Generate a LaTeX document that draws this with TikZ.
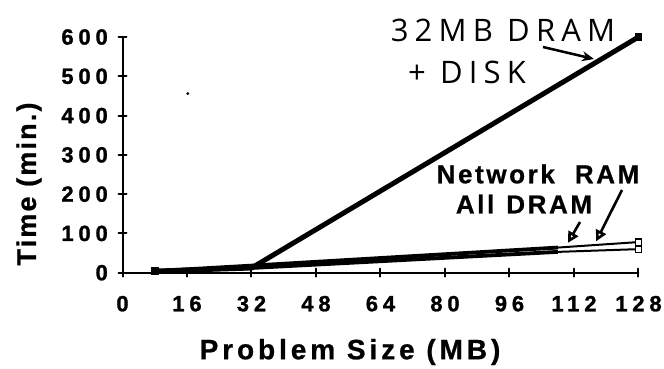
\documentclass[tikz,border=0pt]{standalone}
\usepackage{fontspec}
\setmainfont{Liberation Sans}
\newfontfamily\tickfont[LetterSpace=22,FakeBold=1.2]{Liberation Sans}
\newfontfamily\titlefont[LetterSpace=14,FakeBold=0.8]{Liberation Sans}
\newfontfamily\ytitlefont[LetterSpace=8,FakeBold=0.8]{Liberation Sans}
\newfontfamily\lblfont[LetterSpace=10,FakeBold=0.8]{Liberation Sans}
\newfontfamily\handfont[LetterSpace=20]{Open Sans}
\usetikzlibrary{arrows.meta}
\usetikzlibrary{positioning}

\tikzset{
  axis/.style={line width=2pt, line cap=round},
  ticklab/.style={inner sep=0pt, font=\tickfont\bfseries\fontsize{22}{22}\selectfont},
  axtitle/.style={inner sep=0pt, font=\titlefont\bfseries\fontsize{28}{28}\selectfont},
  ytitle/.style={inner sep=0pt, font=\ytitlefont\bfseries\fontsize{27}{27}\selectfont},
  lbl/.style={inner sep=0pt, font=\lblfont\bfseries\fontsize{26}{26}\selectfont},
  hand/.style={inner sep=0pt, font=\handfont\fontsize{31}{31}\selectfont},
  markbox/.style={draw=black, fill=white, line width=1.4pt, minimum size=6.5pt, inner sep=0pt},
  ptr/.style={-{Triangle[open, length=11pt, width=11pt]}, line width=2.6pt},
}

\begin{document}
\begin{tikzpicture}[x=1pt,y=1pt]
	\useasboundingbox (0,0) rectangle (664,368);
	\begin{scope}[shift={(122.5,95.3)}, x=4.031pt, y=0.3928pt]
		\coordinate (o) at (0,0);
		\coordinate (xe) at (128,0);
		\coordinate (ye) at (0,600);
		\draw[axis] (ye) -- (o) -- (xe);
		\foreach \t in {0,16,...,128} {
			\draw[axis] (\t,0) ++(0pt,-4pt) -- ++(0pt,8pt);
			\node[ticklab, anchor=north, yshift=-23pt] (xl\t) at (\t,0) {\t};
		}
		\foreach \v in {0,100,...,600} {
			\draw[axis] (0,\v) ++(-4pt,0pt) -- ++(8pt,0pt);
			\node[ticklab, anchor=east, xshift=-14.5pt] (yl\v) at (0,\v) {\v};
		}
		% data
		\coordinate (d1) at (8,4);
		\coordinate (d2) at (32,12);
		\coordinate (d3) at (128,600);
		\coordinate (n1) at (8,4);
		\coordinate (n2) at (32,18);
		\coordinate (n3) at (108,64);
		\coordinate (n4) at (128,78);
		\coordinate (a1) at (8,4);
		\coordinate (a2) at (32,12);
		\coordinate (a3) at (108,53);
		\coordinate (a4) at (128,60);
		\draw[line width=3.8pt, line join=round] (a1) -- (a2) -- (a3);
		\draw[line width=3.8pt, line join=round] (n1) -- (n2) -- (n3);
		\draw[line width=2pt] (a3) -- (a4);
		\draw[line width=2pt] (n3) -- (n4);
		\draw[line width=5pt, line join=round] (d1) -- (d2) -- (d3);
		\node[markbox, fill=black] (m1) at (d1) {};
		\node[markbox] (m2) at (a4) {};
		\node[markbox] (m3) at (n4) {};
		\node[markbox, fill=black] (m4) at (d3) {};
		\coordinate (nettip) at (117.5,80);
		\coordinate (dramtip) at (110.5,76);
		\fill (16.2,456) circle (1.6pt);
	\end{scope}
	\node[ytitle, rotate=90] (ytitle) at (29,184) {Time (min.)};
	\node[axtitle] (xtitle) at (350,16) {Problem Size (MB)};
	\node[lbl] (netlbl) at (538,194) {Network\hspace{20pt}RAM};
	\node[lbl] (dramlbl) at (524,164) {All\hspace{12pt}DRAM};
	\coordinate (netfrom) at (622,178);
	\coordinate (dramfrom) at (580,146);
	\draw[ptr] (netfrom) -- (nettip);
	\draw[ptr] (dramfrom) -- (dramtip);
	\node[hand] (hand1) at (503,338) {32MB DRAM};
	\node[hand] (hand2) at (467,296) {+ DISK};
	\coordinate (handfrom) at (543,321);
	\coordinate (handtip) at (594,309);
	\draw[-{Stealth[length=12pt, width=10pt]}, line width=2.5pt] (handfrom) -- (handtip);
\end{tikzpicture}
\end{document}
